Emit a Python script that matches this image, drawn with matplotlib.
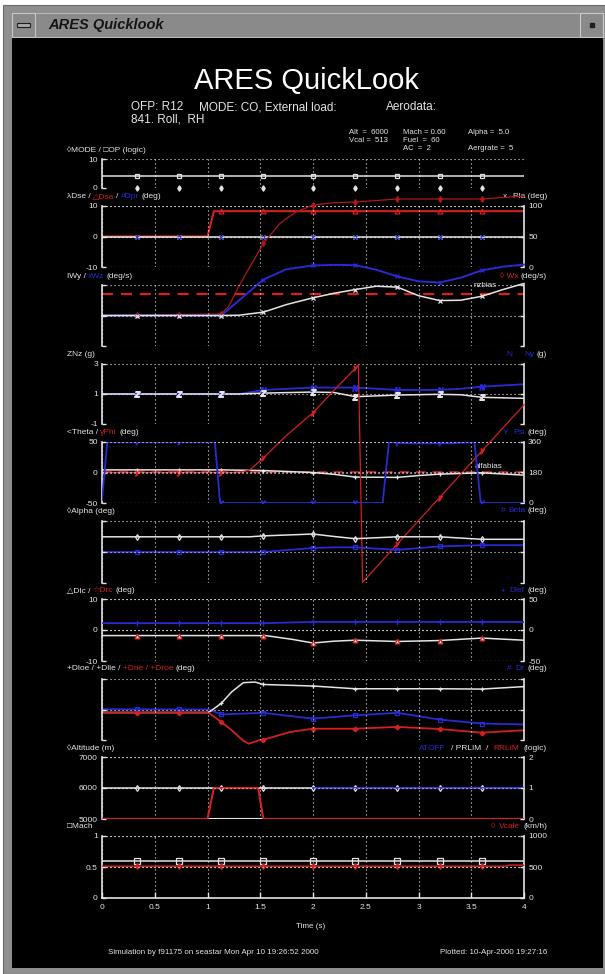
import numpy as np
import matplotlib
matplotlib.use('Agg')
import matplotlib.pyplot as plt
from matplotlib.patches import Rectangle
from matplotlib.offsetbox import TextArea, HPacker, AnnotationBbox

plt.rcParams['font.family'] = ['Liberation Sans', 'DejaVu Sans']
plt.rcParams['axes.unicode_minus'] = False

W_PX, H_PX = 605, 974
X0, X1 = 102, 524
WHITE = '#e4e4e4'
RED = '#d42020'
DRED = '#b01818'
BLUE = '#2a2ad2'

# ---------------- data ----------------
mark_t = [0.33, 0.73, 1.13, 1.53, 2.0, 2.4, 2.8, 3.2, 3.6]
time_ticks = [0, 0.5, 1, 1.5, 2, 2.5, 3, 3.5, 4]
time_labels = ['0', '0.5', '1', '1.5', '2', '2.5', '3', '3.5', '4']

# MODE / OP (logic)
mode_t = [0, 4]
mode = [0, 0]
op = [4, 4]

# Dse / Dsa / Dpr (deg)
dse_t = [0, 4]
dse = [0, 0]
dpr = [0, 0]
dsa_t = [0, 1.0, 1.06, 4.0]
dsa = [0, 0, 8.3, 8.3]

# Wy / Wz / Wx (deg/s)
wy_t = [0, 1.13, 1.3, 1.53, 1.75, 2.0, 2.2, 2.4, 2.6, 2.8, 3.0, 3.2, 3.4, 3.6, 3.8, 4.0]
wy = [0, 0, 0.1, 1.1, 3.6, 5.8, 7.3, 8.5, 9.6, 9.3, 6.5, 4.9, 5.0, 6.3, 8.5, 10.5]
wz = [0, 0, 5.0, 11.8, 15.2, 16.4, 16.6, 16.5, 15.0, 12.8, 11.2, 10.8, 12.4, 14.8, 16.0, 16.7]
wx_t = [0, 1.13, 1.2, 1.28, 1.36, 1.44, 1.53, 1.69, 1.84, 2.0, 2.2, 2.4, 2.8, 3.2, 3.6, 4.0]
wx = [0, 0.5, 3.0, 8.4, 13.5, 18.2, 23.7, 30.3, 34.0, 36.2, 37.0, 37.2, 38.2, 38.2, 38.2, 39.2]
nzbias = 7.2

# Nz / Ny (g)
nz_t = [0, 1.3, 1.53, 2.0, 2.2, 2.4, 2.8, 3.2, 3.4, 3.6, 4.0]
nz = [1.0, 1.0, 1.06, 1.13, 1.1, 0.82, 0.93, 0.98, 0.95, 0.78, 0.71]
ny = [1.0, 1.0, 1.27, 1.43, 1.43, 1.43, 1.27, 1.27, 1.35, 1.49, 1.65]

# Theta / Phi (deg), Psi (deg)
theta_t = [0, 1.13, 1.53, 2.0, 2.2, 2.4, 2.8, 3.0, 3.2, 3.6, 4.0]
theta = [4.3, 4.3, 3.2, 0, -3, -7.5, -8, -5, -2.7, -0.5, -4.3]
phi_t = [0, 1.3, 1.4, 1.53, 1.75, 2.0, 2.2, 2.43, 2.47, 2.8, 3.2, 3.6, 4.0]
phi = [0, 0, 4, 24, 61, 98, 135, 176, -180, -117, -41, 35, 111]
psi_t = [0, 0.05, 1.07, 1.12, 2.66, 2.72, 2.9, 3.3, 3.53, 3.59, 4.0]
psi = [18, 360, 360, 0, 0, 360, 352, 352, 360, 0, 0]
alfabias = 1.0

# Alpha / Beta (deg)
alpha_t = [0, 1.4, 1.53, 2.0, 2.2, 2.4, 2.8, 3.2, 3.4, 3.6, 4.0]
alpha = [4.9, 4.9, 5.2, 5.8, 5.0, 4.3, 4.9, 4.9, 4.5, 4.1, 4.1]
beta = [0, 0, 0, 1.3, 1.5, 1.5, 0.7, 1.8, 2.0, 2.2, 2.2]

# Dlc / Drc (deg), Dlef (deg)
dlc_t = [0, 1.55, 1.8, 2.0, 2.2, 2.4, 2.8, 3.2, 3.6, 4.0]
dlc = [-1.8, -1.8, -3.0, -4.2, -3.6, -3.3, -3.7, -3.4, -2.6, -3.3]
drc = [-1.8, -1.8, -3.0, -4.2, -3.6, -3.3, -3.7, -3.4, -2.6, -3.3]
dlef_t = [0, 1.53, 2.0, 4.0]
dlef = [11, 11, 13, 13]

# Dloe / Dlie / Drie / Droe / Dr (deg)
dloe_t = [0, 1.01, 1.13, 1.23, 1.34, 1.45, 1.53, 2.0, 2.4, 2.8, 3.2, 3.6, 4.0]
dloe = [-1.0, -1.0, 2.0, 5.8, 8.8, 9.0, 8.2, 7.7, 6.8, 6.8, 6.8, 6.7, 7.5]
drie_t = [0, 1.01, 1.13, 1.23, 1.34, 1.39, 1.49, 1.53, 1.78, 2.0, 2.4, 2.8, 3.2, 3.6, 4.0]
drie = [-1.0, -1.0, -4.1, -6.8, -10.3, -11.2, -10.1, -9.9, -7.4, -6.3, -6.3, -5.7, -6.4, -7.6, -6.8]
dr_t = [0, 1.01, 1.13, 1.53, 2.0, 2.4, 2.8, 3.2, 3.6, 4.0]
dr = [0.1, 0.0, -1.6, -1.1, -3.0, -1.9, -1.1, -3.3, -4.6, -4.9]

# Altitude (m), ATOFF / PRLIM / RRLIM (logic)
alt_t = [0, 4]
alt = [6000, 6000]
prlim = [0, 0]
rrlim_t = [0, 1.0, 1.06, 1.48, 1.53, 4.0]
rrlim = [0, 0, 1, 1, 0, 0]
atoff_t = [2.0, 4.0]
atoff = [1, 1]

# Mach, Vcale (km/h)
mach_t = [0, 4]
mach = [0.6, 0.6]
vcale_t = [0, 3.83, 3.86, 4.0]
vcale = [513, 513, 530, 530]

# ---------------- figure ----------------
fig = plt.figure(figsize=(W_PX / 100, H_PX / 100), dpi=100, facecolor='white')
bg = fig.add_axes([0, 0, 1, 1], zorder=-1)
bg.set_xlim(0, W_PX)
bg.set_ylim(H_PX, 0)
bg.axis('off')

# window frame
bg.add_patch(Rectangle((3, 5), 602, 969, fc='#8f8f8f', ec='#6a6a6a', lw=0.8))
bg.add_patch(Rectangle((12, 13), 591, 24, fc='#8a8a8a', ec='#b8b8b8', lw=0.8))
bg.add_patch(Rectangle((12, 13), 23, 24, fc='#8a8a8a', ec='#c4c4c4', lw=0.8))
bg.add_patch(Rectangle((17, 23), 13, 4, fc='#a8a8a8', ec='#202020', lw=0.8))
bg.add_patch(Rectangle((580, 13), 23, 24, fc='#8a8a8a', ec='#c8c8c8', lw=0.8))
bg.add_patch(Rectangle((590, 23), 4, 4, fc='#202020', ec='#202020'))
bg.add_patch(Rectangle((12, 38), 591, 930, fc='black', ec='none'))
bg.text(48, 25, 'ARES Quicklook', fontsize=10.5, style='italic', weight='bold',
        color='#151515', va='center')

# header
bg.text(306, 81, 'ARES QuickLook', color='white', fontsize=21, ha='center', va='center')
bg.text(131, 107, 'OFP: R12', color=WHITE, fontsize=8.5, va='center')
bg.text(199, 107, 'MODE: CO, External load:', color=WHITE, fontsize=8.5, va='center')
bg.text(386, 107, 'Aerodata:', color=WHITE, fontsize=8.5, va='center')
bg.text(131, 120, '841. Roll,  RH', color=WHITE, fontsize=8.5, va='center')
info = [(349, 133, 'Alt  =  6000'), (403, 133, 'Mach = 0.60'), (468, 133, 'Alpha =  5.0'),
        (349, 140, 'Vcal =  513'), (403, 140, 'Fuel  =  60'),
        (403, 149, 'AC  =  2'), (468, 149, 'Aergrate =  5')]
for x, y, s in info:
    bg.text(x, y, s, color=WHITE, fontsize=5.6, va='center')

bg.text(311, 926, 'Time (s)', color=WHITE, fontsize=5.8, ha='center', va='center')
bg.text(213, 952, 'Simulation by f91175 on seastar Mon Apr 10 19:26:52 2000',
        color=WHITE, fontsize=5.8, ha='center', va='center')
bg.text(494, 952, 'Plotted: 10-Apr-2000 19:27:16', color=WHITE, fontsize=5.8,
        ha='center', va='center')


def label(x, y, parts, right=False, size=6.0, sep=1.6):
    boxes = [TextArea(s, textprops=dict(color=c, fontsize=size)) for s, c in parts]
    pack = HPacker(children=boxes, align='baseline', pad=0, sep=sep)
    ab = AnnotationBbox(pack, (x, y), xycoords='data', box_alignment=(1 if right else 0, 0.5),
                        frameon=False, pad=0)
    bg.add_artist(ab)


GRID = dict(color=WHITE, lw=0.8, ls=(0, (1, 2.6)))


def panel(top, bot, ylim, yticks, ylabels=None, right_spine=True, right_ticks=True):
    ax = fig.add_axes([X0 / W_PX, 1 - bot / H_PX, (X1 - X0) / W_PX, (bot - top) / H_PX])
    ax.set_facecolor('none')
    ax.set_xlim(0, 4)
    ax.set_ylim(*ylim)
    ax.set_xticks(time_ticks)
    ax.set_yticks(yticks)
    ax.set_yticklabels(ylabels if ylabels else [])
    ax.tick_params(axis='x', length=0, labelbottom=False)
    ax.tick_params(axis='y', direction='in', length=3, width=1, color=WHITE,
                   labelcolor=WHITE, labelsize=6, pad=3, right=right_ticks)
    ax.grid(True, **GRID)
    ax.set_axisbelow(False)
    ax.spines['top'].set_visible(False)
    ax.spines['bottom'].set_visible(False)
    ax.spines['left'].set_color(WHITE)
    ax.spines['left'].set_linewidth(1.2)
    ax.spines['right'].set_color(WHITE)
    ax.spines['right'].set_linewidth(1.2)
    ax.spines['right'].set_visible(right_spine)
    return ax


def twin(ax, ylim, yticks, ylabels):
    tw = ax.twinx()
    tw.set_ylim(*ylim)
    tw.set_yticks(yticks)
    tw.set_yticklabels(ylabels)
    tw.tick_params(axis='y', direction='in', length=3, width=1, color=WHITE,
                   labelcolor=WHITE, labelsize=6, pad=3)
    for s in tw.spines.values():
        s.set_visible(False)
    tw.grid(True, axis='y', **GRID)
    tw.set_axisbelow(False)
    return tw


def series(ax, t, y, color, lw=1.1, marker=None, ms=3.5, mfc=None, mt=mark_t,
           ls='-', clip=True, line=True):
    if line:
        ax.plot(t, y, color=color, lw=lw, ls=ls, clip_on=clip, zorder=2)
    if marker:
        ax.plot(mt, np.interp(mt, t, y), ls='none', marker=marker, ms=ms, mec=color,
                mfc=mfc if mfc else color, mew=0.9, clip_on=clip, zorder=2.1)


# 1 MODE / OP
ax = panel(159, 188, (0, 10), [0, 10], ['0', '10'], right_spine=False, right_ticks=False)
series(ax, mode_t, op, WHITE, marker='s', ms=3.5, mfc='none')
series(ax, mode_t, mode, WHITE, marker='d', ms=2.8, line=False, clip=False)
label(67, 150, [('◊MODE / □OP (logic)', WHITE)])

# 2 Dse / Dsa / Dpr
ax = panel(206, 267, (-10, 10), [-10, 0, 10], ['-10', '0', '10'])
tw = twin(ax, (0, 100), [0, 50, 100], ['0', '50', '100'])
series(ax, dsa_t, dsa, RED, lw=1.5, marker='^', ms=3.5, mfc='none', mt=mark_t[2:])
series(ax, dse_t, dse, WHITE, marker='x', ms=3.5)
series(ax, dse_t, dpr, BLUE, marker='x', ms=2.5, line=False)
label(67, 197, [('λDse /', WHITE), ('△Dsa', RED), ('/', WHITE), ('#Dpr', BLUE), ('(deg)', WHITE)])
label(547, 197, [('x', WHITE), ('Pla (deg)', WHITE)], right=True, sep=4)

# 3 Wy / Wz / Wx
ax = panel(285, 346, (-10, 10), [-10, 0, 10])
ax.axhline(nzbias, color=RED, lw=1.6, ls=(0, (5, 3.5)), zorder=1.9)
series(ax, wx_t, wx, DRED, lw=0.9, marker='d', ms=3, clip=False)
series(ax, wy_t, wz, BLUE, lw=1.4, marker='x', ms=3.5, clip=False)
series(ax, wy_t, wy, WHITE, marker='x', ms=3.5, clip=False)
ax.text(3.52, nzbias + 2.5, 'nzbias', color=WHITE, fontsize=5.8, va='center')
label(67, 276, [('IWy /', WHITE), ('xWz', BLUE), ('(deg/s)', WHITE)])
label(547, 276, [('◊ Wx', RED), ('(deg/s)', WHITE)], right=True)

# 4 Nz / Ny
ax = panel(364, 424, (-1, 3), [-1, 1, 3], ['-1', '1', '3'])
series(ax, nz_t, ny, BLUE, lw=1.3, marker='$N$', ms=4)
series(ax, nz_t, nz, WHITE, marker='$Z$', ms=4)
label(67, 354, [('ZNz (g)', WHITE)])
label(506, 354, [('N', BLUE)])
label(547, 354, [('Ny', BLUE), ('(g)', WHITE)], right=True)

# 5 Theta / Phi / Psi
ax = panel(442, 503, (-50, 50), [-50, 0, 50], ['-50', '0', '50'])
tw = twin(ax, (0, 360), [0, 180, 360], ['0', '180', '360'])
ax.axhline(alfabias, color=DRED, lw=1.4, ls=(0, (5, 3.5)), zorder=1.9)
series(tw, psi_t, psi, BLUE, lw=1.3, marker='$Y$', ms=3.5)
series(ax, theta_t, theta, WHITE, marker='+', ms=3.5)
series(ax, phi_t, phi, RED, lw=0.9, marker='$y$', ms=3.5, clip=False)
ax.text(3.53, alfabias + 9, 'alfabias', color=WHITE, fontsize=5.8, va='center')
label(67, 433, [('<Theta /', WHITE), ('γPhi', RED), ('(deg)', WHITE)])
label(503, 433, [('Y', BLUE)])
label(547, 433, [('Psi', BLUE), ('(deg)', WHITE)], right=True)

# 6 Alpha / Beta
ax = panel(521, 583, (-10, 10), [-10, 0, 10])
series(ax, alpha_t, beta, BLUE, lw=1.3, marker='s', ms=3, mfc='none')
series(ax, alpha_t, alpha, WHITE, marker='d', ms=3, mfc='none')
label(67, 511, [('◊Alpha (deg)', WHITE)])
label(547, 511, [('#', BLUE), ('Beta', BLUE), ('(deg)', WHITE)], right=True)

# 7 Dlc / Drc / Dlef
ax = panel(599, 661, (-10, 10), [-10, 0, 10], ['-10', '0', '10'])
tw = twin(ax, (-50, 50), [-50, 0, 50], ['-50', '0', '50'])
series(tw, dlef_t, dlef, BLUE, lw=1.3, marker='+', ms=4)
series(ax, dlc_t, dlc, WHITE)
series(ax, dlc_t, drc, RED, marker='^', ms=3.5, mfc=WHITE, line=False)
label(67, 591, [('△Dlc /', WHITE), ('☆Drc', RED), ('(deg)', WHITE)])
label(547, 591, [('+', BLUE), ('Dlef', BLUE), ('(deg)', WHITE)], right=True, sep=2.5)

# 8 Dloe / Dlie / Drie / Droe / Dr
ax = panel(679, 740, (-10, 10), [-10, 0, 10])
series(ax, dr_t, dr, BLUE, lw=1.3, marker='s', ms=3, mfc='none')
series(ax, dloe_t, dloe, WHITE, marker='+', ms=3.5, clip=False)
series(ax, drie_t, drie, RED, lw=1.3, marker='P', ms=3, clip=False)
label(67, 669, [('+Dloe / +Dlie /', WHITE), ('+Drie / +Droe', RED), ('(deg)', WHITE)])
label(547, 669, [('#', BLUE), ('Dr', BLUE), ('(deg)', WHITE)], right=True, sep=2.5)

# 9 Altitude, ATOFF / PRLIM / RRLIM
ax = panel(757, 819, (5000, 7000), [5000, 6000, 7000], ['5000', '6000', '7000'])
tw = twin(ax, (0, 2), [0, 1, 2], ['0', '1', '2'])
series(ax, alt_t, alt, WHITE, marker='d', ms=3, mfc='none')
series(tw, alt_t, prlim, WHITE, lw=1.5)
series(tw, rrlim_t, rrlim, RED, lw=1.5)
series(tw, atoff_t, atoff, BLUE, lw=1.3)
label(67, 748, [('◊Altitude (m)', WHITE)])
label(547, 748, [('ATOFF', BLUE), ('/ PRLIM', WHITE), ('/', WHITE), ('RRLIM', RED),
                 ('(logic)', WHITE)], right=True, sep=3.5)

# 10 Mach, Vcale
ax = panel(836, 898, (0, 1), [0, 0.5, 1], ['0', '0.5', '1'])
tw = twin(ax, (0, 1000), [0, 500, 1000], ['0', '500', '1000'])
series(ax, mach_t, mach, WHITE, marker='s', ms=4.5, mfc='none')
series(tw, vcale_t, vcale, RED, marker='d', ms=3)
ax.spines['bottom'].set_visible(True)
ax.spines['bottom'].set_color(WHITE)
ax.spines['bottom'].set_linewidth(1.2)
ax.set_xticklabels(time_labels)
ax.tick_params(axis='x', direction='in', length=4, width=1, color=WHITE,
               labelbottom=True, labelsize=6, labelcolor=WHITE, pad=4)
label(67, 827, [('□Mach', WHITE)])
label(547, 827, [('◊', RED), ('Vcale', RED), ('(km/h)', WHITE)], right=True, sep=2.5)

fig.savefig('out.png', dpi=100, facecolor=fig.get_facecolor())
